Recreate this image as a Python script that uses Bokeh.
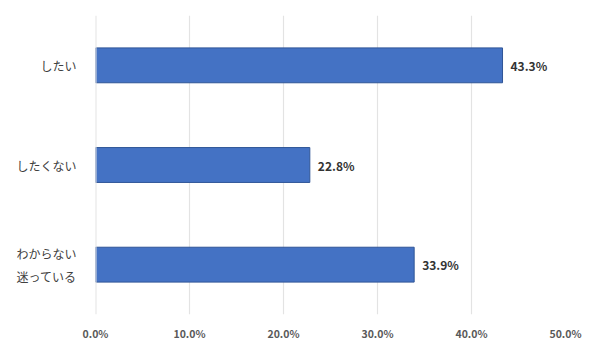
from bokeh.plotting import figure
from bokeh.models import ColumnDataSource, FixedTicker, Range1d, Span
from bokeh.core.properties import value
from bokeh.embed import file_html
from bokeh.resources import INLINE

categories = ["したい", "したくない", "わからない\n迷っている"]
values = [43.3, 22.8, 33.9]
labels = ["43.3%", "22.8%", "33.9%"]
ticks = [0, 10, 20, 30, 40, 50]
tick_labels = ["0.0%", "10.0%", "20.0%", "30.0%", "40.0%", "50.0%"]

FONT = "Noto Sans CJK JP"

src = ColumnDataSource(dict(cat=categories, val=values, lab=labels))

p = figure(width=584, height=343, y_range=list(reversed(categories)),
           x_range=Range1d(0, 50), output_backend="svg", toolbar_location=None,
           min_border_left=95, min_border_right=19, min_border_top=15, min_border_bottom=24)
p.outline_line_color = None
p.background_fill_color = "white"
p.border_fill_color = "white"

p.xgrid.grid_line_color = "#E3E3E3"
p.xgrid.grid_line_width = 1.2
p.ygrid.grid_line_color = None
p.add_layout(Span(location=0, dimension="height", line_color="#E3E3E3", line_width=2))

p.hbar(y="cat", right="val", left=0, height=0.35, source=src,
       fill_color="#4472C4", line_color="#2F5597", line_width=1)
p.text(x="val", y="cat", text="lab", source=src, x_offset=8,
       text_align="left", text_baseline="middle",
       text_font=value(FONT), text_font_size="12px", text_font_style="bold",
       text_color="#333333")

p.xaxis.ticker = FixedTicker(ticks=ticks)
p.xaxis.major_label_overrides = dict(zip(ticks, tick_labels))
p.xaxis.axis_line_color = None
p.xaxis.major_tick_line_color = None
p.xaxis.minor_tick_line_color = None
p.xaxis.major_label_text_font = FONT
p.xaxis.major_label_text_font_size = "10.5px"
p.xaxis.major_label_text_font_style = "bold"
p.xaxis.major_label_text_color = "#595959"
p.xaxis.major_label_standoff = 5

p.yaxis.axis_line_color = None
p.yaxis.major_tick_line_color = None
p.yaxis.minor_tick_line_color = None
p.yaxis.major_label_text_font = FONT
p.yaxis.major_label_text_font_size = "12px"
p.yaxis.major_label_text_color = "#404040"
p.yaxis.major_label_text_line_height = 1.35
p.yaxis.major_label_standoff = 13

open("out.html", "w").write(file_html(p, INLINE))
